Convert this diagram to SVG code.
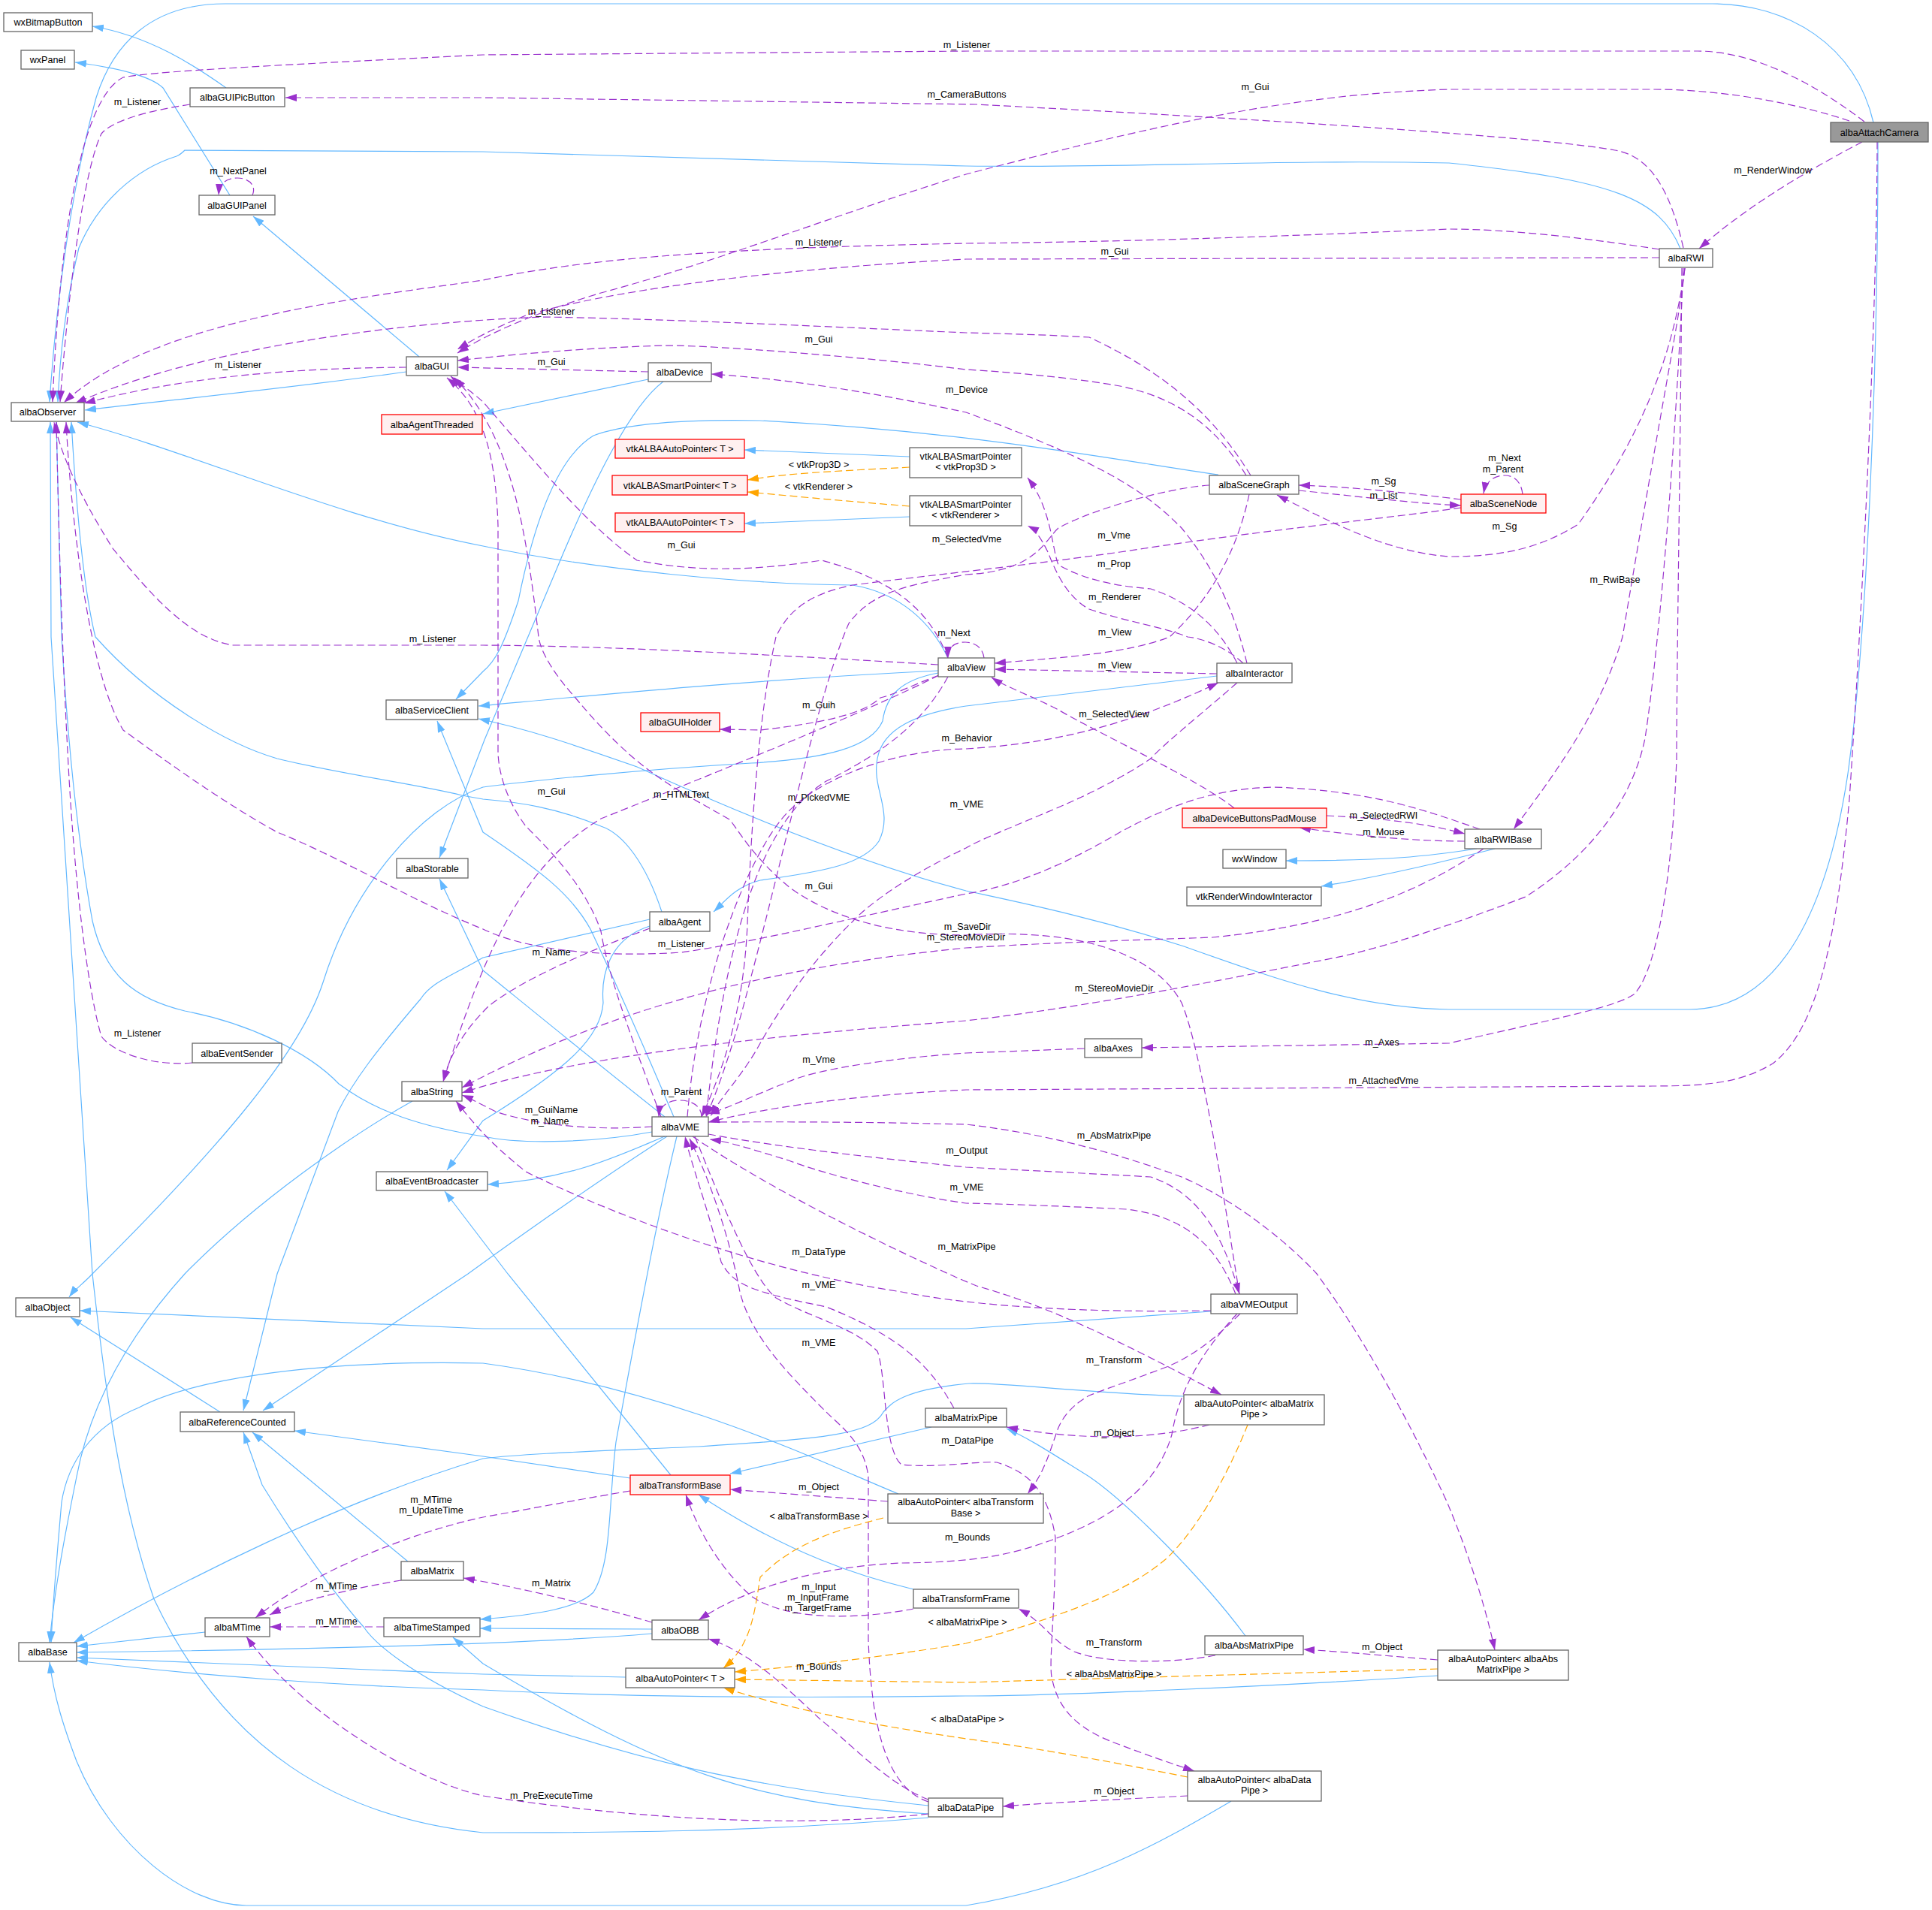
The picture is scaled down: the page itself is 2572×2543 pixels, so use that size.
<svg xmlns="http://www.w3.org/2000/svg" width="2572" height="2543" viewBox="0 0 2572 2543">
<style>
.nd rect{fill:#ffffff;stroke:#666666;stroke-width:1.3}
.nd.r rect{fill:#FFF0F0;stroke:#FF0000}
.nd.c rect{fill:#999999;stroke:#666666}
text{font-family:"Liberation Sans",Arial,sans-serif;font-size:12.6px;fill:#000000;text-anchor:middle}
.i{fill:none;stroke:#63B8FF;stroke-width:1.2;marker-end:url(#ai)}
.u{fill:none;stroke:#9A32CD;stroke-width:1.2;stroke-dasharray:10,5;marker-end:url(#au)}
.t{fill:none;stroke:#FFA500;stroke-width:1.2;stroke-dasharray:10,5;marker-end:url(#at)}
</style>
<defs>
<marker id="ai" viewBox="0 0 15 10" refX="15" refY="5" markerWidth="15" markerHeight="10" markerUnits="userSpaceOnUse" orient="auto"><path d="M0,0 L15,5 L0,10 z" fill="#63B8FF"/></marker>
<marker id="au" viewBox="0 0 15 10" refX="15" refY="5" markerWidth="15" markerHeight="10" markerUnits="userSpaceOnUse" orient="auto"><path d="M0,0 L15,5 L0,10 z" fill="#9A32CD"/></marker>
<marker id="at" viewBox="0 0 15 10" refX="15" refY="5" markerWidth="15" markerHeight="10" markerUnits="userSpaceOnUse" orient="auto"><path d="M0,0 L15,5 L0,10 z" fill="#FFA500"/></marker>
</defs>
<rect width="2572" height="2543" fill="#ffffff"/>
<g id="connectors">
<path class="i" d="M2494,163 C2470,60 2380,5 2280,5 L300,5 C200,5 150,60 128,130 C95,250 75,400 66,535"/>
<path class="i" d="M2500,189 C2500,500 2485,850 2460,1030 C2430,1230 2360,1344 2249,1344 L1929,1344 C1800,1342 1690,1300 1573,1259 C1450,1220 1350,1200 1286,1186 C1150,1150 1000,1090 848,1021 C760,990 700,970 637,957"/>
<path class="i" d="M2237,331 C2210,265 2150,240 1929,217 C1700,212 1500,224 1286,221 L643,202 L246,200 C242,204 240,206 235,208 C180,225 130,270 105,330 C88,400 80,470 77,535"/>
<path class="i" d="M301,117 C260,88 200,48 123,35"/>
<path class="i" d="M306,260 L217,117 C205,105 170,92 100,83"/>
<path class="i" d="M558,475 L337,288"/>
<path class="i" d="M541,495 C400,515 250,530 113,546"/>
<path class="i" d="M863,505 L643,551"/>
<path class="i" d="M883,508 C840,540 790,640 740,760 L645,985 L585,1142"/>
<path class="i" d="M1249,893 C1000,905 800,925 637,940"/>
<path class="i" d="M1262,876 C1240,830 1200,790 1135,779 C1000,778 800,760 643,727 C450,690 250,600 103,562"/>
<path class="i" d="M1249,896 C1200,905 1180,925 1175,960 C1160,995 1100,1010 1000,1016 C850,1025 700,1040 643,1048 C560,1075 470,1180 430,1308 C400,1400 300,1520 123,1696 C110,1710 100,1716 92,1727"/>
<path class="i" d="M1620,900 L1286,940 C1220,950 1175,970 1168,1010 C1160,1050 1190,1080 1170,1120 C1150,1150 1100,1160 1012,1172 C980,1180 965,1200 950,1214"/>
<path class="i" d="M881,1214 C860,1150 830,1110 800,1100 C740,1075 690,1068 643,1064 L615,1059 C560,1045 450,1030 369,1010 C300,990 200,930 127,848 C110,780 100,650 95,562"/>
<path class="i" d="M865,1224 L643,1275 C600,1300 574,1308 560,1330 C500,1400 470,1440 450,1480 C420,1560 390,1640 369,1696 L324,1878"/>
<path class="i" d="M865,1233 C810,1250 800,1300 803,1335 C800,1380 760,1420 643,1492 L595,1558"/>
<path class="i" d="M897,1487 C860,1400 830,1330 786,1237 C760,1190 720,1160 643,1108 L582,960"/>
<path class="i" d="M885,1487 C800,1420 690,1330 643,1292 L585,1170"/>
<path class="i" d="M868,1507 C800,1520 700,1525 643,1513 C560,1500 500,1480 451,1443 C410,1400 330,1362 246,1346 C180,1330 140,1300 123,1226 C100,1100 88,950 82,848 L75,562"/>
<path class="i" d="M885,1513 C820,1540 760,1570 649,1577"/>
<path class="i" d="M888,1513 C800,1570 700,1640 623,1696 L350,1878"/>
<path class="i" d="M901,1513 C880,1600 860,1700 820,1920 C810,2000 815,2080 790,2120 C770,2140 720,2150 639,2156"/>
<path class="i" d="M868,2169 L639,2168"/>
<path class="i" d="M868,2175 C750,2185 500,2195 102,2200"/>
<path class="i" d="M833,2233 L643,2229 C450,2222 250,2212 102,2207"/>
<path class="i" d="M1914,2231 C1700,2245 1400,2258 1286,2258 C1000,2262 800,2258 643,2250 C450,2245 250,2230 102,2211"/>
<path class="i" d="M1639,2398 C1550,2450 1450,2510 1286,2537 L328,2537 C250,2537 150,2460 102,2345 C85,2300 72,2260 66,2213"/>
<path class="i" d="M273,2173 L102,2192"/>
<path class="i" d="M549,1466 C470,1510 340,1600 246,1696 C170,1780 120,1870 102,1966 C85,2050 72,2120 66,2187"/>
<path class="i" d="M1196,1989 C1100,1950 900,1850 643,1815 C400,1810 250,1840 185,1874 C120,1900 90,1950 82,2000 C75,2080 70,2140 68,2187"/>
<path class="i" d="M1576,1859 C1450,1855 1330,1840 1290,1842 C1200,1850 1185,1870 1176,1880 C1160,1910 1100,1915 930,1926 C800,1932 700,1935 643,1942 C450,2000 250,2100 98,2187"/>
<path class="i" d="M1236,2420 C1000,2440 800,2440 643,2440 C450,2420 300,2330 205,2129 C160,2000 140,1850 123,1696 L68,848 L67,562"/>
<path class="i" d="M1236,2404 C1000,2380 848,2345 643,2272 C550,2230 500,2190 484,2166 C450,2128 400,2060 349,1977 L324,1907"/>
<path class="i" d="M1236,2415 C1000,2400 889,2361 643,2215 L603,2180"/>
<path class="i" d="M543,2079 L336,1907"/>
<path class="i" d="M839,1968 L643,1939 L392,1905"/>
<path class="i" d="M893,1964 L676,1696 L592,1586"/>
<path class="i" d="M1240,1900 L972,1962"/>
<path class="i" d="M1216,2116 C1150,2100 1050,2070 930,1990"/>
<path class="i" d="M1658,2178 C1600,2100 1500,2000 1450,1966 C1400,1935 1370,1915 1340,1902"/>
<path class="i" d="M1612,1746 L1286,1769 L643,1769 L106,1745"/>
<path class="i" d="M293,1880 L94,1754"/>
<path class="i" d="M1966,1130 C1900,1140 1850,1146 1712,1146"/>
<path class="i" d="M1990,1130 C1930,1145 1850,1165 1759,1180"/>
<path class="i" d="M1211,608 L991,599"/>
<path class="i" d="M1211,688 L991,697"/>
<path class="i" d="M1622,632 C1500,615 1300,575 1012,560 C900,558 830,565 790,580 C740,610 710,700 690,800 C670,860 660,880 643,894 L607,931"/>
<path class="u" d="M2482,162 C2440,130 2350,68 2260,68 L1290,68 L643,73 C400,85 200,95 164,103 C110,130 80,300 70,535"/>
<path class="u" d="M2241,330 C2225,260 2200,208 2150,200 C2050,182 1700,160 1300,139 L643,130 L380,130"/>
<path class="u" d="M2462,161 C2400,140 2300,119 2200,119 L1929,119 C1750,125 1600,150 1286,232 C1100,290 950,350 800,390 C700,420 640,450 609,470"/>
<path class="u" d="M2479,189 C2420,220 2330,270 2262,331"/>
<path class="u" d="M2499,189 C2499,400 2480,800 2462,1064 C2445,1250 2420,1370 2360,1416 C2320,1440 2280,1446 2200,1446 L1286,1451 C1100,1460 1000,1480 943,1494"/>
<path class="u" d="M2209,332 C2100,315 2000,305 1929,305 C1700,315 1500,322 1286,324 C1000,330 800,340 643,373 C450,400 200,430 85,536"/>
<path class="u" d="M2209,343 L1286,345 C1000,360 800,390 700,420 C650,440 625,455 609,465"/>
<path class="u" d="M2243,357 C2230,450 2200,560 2101,698 C2050,730 2000,741 1929,741 C1850,735 1780,700 1700,659"/>
<path class="u" d="M2243,357 C2235,430 2215,520 2160,848 C2130,950 2070,1030 2015,1104"/>
<path class="u" d="M2241,357 C2230,600 2210,850 2190,983 C2170,1080 2100,1150 2031,1194 C1950,1225 1850,1260 1778,1275 C1600,1310 1450,1340 1286,1359 C1000,1380 750,1410 615,1455"/>
<path class="u" d="M2239,357 C2237,600 2232,900 2232,1010 C2225,1200 2200,1300 2175,1324 C2150,1340 2100,1350 1929,1389 L1520,1395"/>
<path class="u" d="M1659,633 C1620,570 1570,530 1491,514 C1400,498 1286,492 1286,492 C1150,475 950,460 889,460 C800,462 700,470 609,480"/>
<path class="u" d="M1665,633 C1620,560 1560,500 1450,449 C1380,445 1320,444 1286,443 C1100,435 900,425 725,422 C500,430 250,470 100,537"/>
<path class="u" d="M863,495 L609,489"/>
<path class="u" d="M1660,883 C1645,820 1620,760 1573,703 C1530,660 1480,620 1286,549 C1150,520 1050,505 947,498"/>
<path class="u" d="M1729,653 C1800,660 1880,670 1945,673"/>
<path class="u" d="M1945,665 C1880,657 1800,648 1729,646"/>
<path class="u" d="M2027,658 C2025,640 2015,633 2003,633 C1990,633 1978,640 1975,657"/>
<path class="u" d="M1945,676 C1850,690 1700,703 1491,735 C1350,755 1200,770 1135,779 C1080,790 1050,811 1033,848 C1010,950 1000,1100 995,1230 C990,1350 960,1430 934,1487"/>
<path class="u" d="M1610,646 C1550,650 1450,680 1409,703 C1390,720 1380,760 1286,765 C1200,780 1160,790 1130,830 C1090,920 1040,1150 1000,1300 C980,1380 960,1440 940,1487"/>
<path class="u" d="M1663,658 C1650,720 1620,790 1557,848 C1500,870 1420,875 1324,883"/>
<path class="u" d="M1647,883 C1620,830 1580,800 1532,784 C1480,780 1440,770 1409,752 C1400,730 1401,680 1368,636"/>
<path class="u" d="M1655,883 C1630,860 1600,850 1581,848 C1550,835 1500,828 1450,811 C1420,795 1405,760 1395,735 C1385,715 1378,705 1368,700"/>
<path class="u" d="M1620,897 L1324,891"/>
<path class="u" d="M1643,1076 C1600,1040 1450,970 1409,945 C1370,925 1340,915 1320,902"/>
<path class="u" d="M915,1487 C930,1300 1000,1130 1050,1080 C1100,1030 1200,998 1286,997 C1400,990 1500,967 1622,909"/>
<path class="u" d="M1250,899 C1220,910 1190,925 1172,929 C1150,950 1100,962 1012,972 L958,971"/>
<path class="u" d="M1262,876 C1240,820 1200,775 1094,746 C1000,760 930,762 848,746 C780,700 700,600 643,535 C620,515 610,510 600,501"/>
<path class="u" d="M880,1487 C840,1380 810,1300 800,1240 C780,1180 730,1130 700,1100 C670,1060 663,1020 663,1000 L663,700 C660,600 640,540 595,503"/>
<path class="u" d="M1650,1723 C1630,1600 1600,1400 1573,1335 C1540,1275 1450,1235 1286,1245 C1200,1245 1115,1227 1053,1183 C1000,1140 980,1100 971,1091 C900,1050 850,1030 766,929 C740,900 720,870 717,848 C700,700 680,580 605,503"/>
<path class="u" d="M1249,885 C1000,870 800,860 643,859 L310,859 C250,850 200,790 150,730 C100,650 80,600 72,562"/>
<path class="u" d="M1262,901 C1230,960 1180,1000 1100,1040 C1000,1100 960,1300 940,1487"/>
<path class="u" d="M1250,899 C1150,950 900,1050 800,1090 C700,1150 650,1250 590,1440"/>
<path class="u" d="M1647,909 C1600,950 1550,990 1532,1010 C1480,1045 1420,1070 1409,1075 C1350,1100 1300,1120 1286,1129 C1200,1170 1150,1210 1135,1227 C1080,1280 1040,1340 1012,1389 C990,1430 960,1460 946,1486"/>
<path class="u" d="M865,1236 C800,1260 700,1300 650,1340 C620,1370 600,1400 590,1440"/>
<path class="u" d="M1970,1104 C1900,1080 1830,1053 1696,1048 C1620,1050 1560,1070 1491,1108 C1420,1150 1350,1180 1286,1190 C1100,1230 1000,1255 907,1268 C800,1275 700,1265 643,1237 C550,1200 450,1140 369,1108 C300,1070 230,1020 164,972 C120,900 95,700 88,562"/>
<path class="u" d="M256,1415 C200,1420 150,1400 135,1380 C120,1330 100,1200 90,1000 C82,850 78,700 75,562"/>
<path class="u" d="M253,139 C200,147 150,160 135,178 C110,230 90,400 80,535"/>
<path class="u" d="M541,489 C400,490 250,500 112,537"/>
<path class="u" d="M336,260 C342,246 330,237 316,237 C300,237 292,245 291,260"/>
<path class="u" d="M1310,876 C1308,860 1295,855 1285,855 C1270,855 1262,862 1262,876"/>
<path class="u" d="M934,1487 C934,1472 920,1465 905,1465 C890,1465 878,1472 877,1487"/>
<path class="u" d="M868,1500 C800,1505 720,1500 660,1480 C640,1470 625,1462 615,1458"/>
<path class="u" d="M1444,1396 L1286,1402 C1200,1408 1094,1421 1050,1440 C1000,1460 970,1475 943,1483"/>
<path class="u" d="M943,1494 C1100,1493 1200,1495 1286,1497 C1400,1510 1500,1540 1573,1567 C1650,1600 1720,1660 1753,1696 C1800,1760 1860,1858 1926,1999 C1960,2080 1980,2150 1990,2197"/>
<path class="u" d="M943,1510 C1050,1530 1200,1545 1286,1554 C1400,1560 1500,1565 1532,1567 C1600,1590 1630,1650 1650,1723"/>
<path class="u" d="M1645,1723 C1620,1660 1580,1620 1500,1610 C1400,1605 1300,1602 1286,1602 C1200,1590 1094,1562 1050,1545 C1000,1530 970,1520 945,1517"/>
<path class="u" d="M922,1513 C990,1560 1100,1620 1217,1675 C1250,1690 1270,1700 1300,1712 C1400,1740 1500,1790 1626,1857"/>
<path class="u" d="M1612,1745 C1450,1748 1300,1740 1200,1720 C1000,1690 800,1610 700,1560 C650,1520 630,1495 607,1466"/>
<path class="u" d="M1270,1875 C1240,1820 1200,1780 1100,1740 C1000,1720 975,1710 960,1680 C940,1600 920,1550 912,1513"/>
<path class="u" d="M1236,2399 C1180,2380 1160,2300 1156,2183 L1156,1966 C1150,1920 1120,1900 1100,1880 C1050,1830 1000,1780 985,1720 C970,1640 940,1560 918,1516"/>
<path class="u" d="M925,1513 C960,1600 1000,1700 1033,1728 C1080,1755 1135,1766 1168,1799 C1180,1830 1176,1930 1200,1950 C1250,1955 1300,1945 1327,1947 C1370,1960 1395,1985 1405,2047 C1405,2150 1395,2220 1401,2237 C1410,2280 1440,2305 1491,2323 C1530,2338 1560,2348 1590,2358"/>
<path class="u" d="M1651,1749 C1620,1780 1590,1805 1553,1820 C1500,1840 1470,1850 1450,1858 C1420,1875 1410,1895 1405,1912 C1395,1940 1390,1960 1368,1989"/>
<path class="u" d="M1647,1749 C1600,1800 1570,1850 1560,1910 C1540,1980 1480,2020 1409,2047 C1350,2070 1300,2080 1200,2081 C1100,2085 1000,2110 930,2157"/>
<path class="u" d="M1182,1999 L972,1983"/>
<path class="u" d="M1216,2142 C1150,2155 1050,2160 1000,2125 C960,2090 930,2040 913,1990"/>
<path class="u" d="M839,1985 C750,2000 700,2010 643,2020 C550,2040 420,2090 340,2154"/>
<path class="u" d="M534,2104 C470,2115 400,2130 359,2150"/>
<path class="u" d="M511,2166 L359,2166"/>
<path class="u" d="M868,2160 C800,2140 700,2115 617,2101"/>
<path class="u" d="M1236,2415 C1100,2430 900,2430 643,2391 C550,2370 400,2280 328,2179"/>
<path class="u" d="M1236,2396 C1180,2375 1120,2310 1094,2291 C1050,2250 1000,2200 943,2182"/>
<path class="u" d="M1610,1897 C1540,1915 1450,1920 1340,1900"/>
<path class="u" d="M1618,2204 C1560,2215 1470,2215 1430,2199 C1400,2185 1390,2160 1356,2142"/>
<path class="u" d="M1914,2210 C1850,2205 1800,2200 1735,2196"/>
<path class="u" d="M1581,2391 C1500,2395 1400,2400 1335,2405"/>
<path class="u" d="M1766,1086 C1850,1090 1900,1097 1950,1110"/>
<path class="u" d="M1950,1120 C1880,1120 1800,1112 1730,1102"/>
<path class="u" d="M1975,1130 C1900,1180 1800,1230 1614,1248 C1500,1252 1400,1255 1286,1262 C1000,1290 800,1350 615,1448"/>
<path class="t" d="M1211,622 C1100,628 1050,630 995,639"/>
<path class="t" d="M1211,674 C1100,665 1050,660 995,655"/>
<path class="t" d="M1176,2021 C1100,2040 1050,2060 1012,2100 C1004,2150 1000,2190 963,2221"/>
<path class="t" d="M1661,1897 C1640,1950 1600,2030 1553,2075 C1500,2120 1420,2150 1286,2188 C1150,2210 1050,2220 978,2226"/>
<path class="t" d="M1914,2222 L1286,2240 L978,2236"/>
<path class="t" d="M1581,2366 C1500,2350 1400,2330 1286,2315 C1150,2295 1050,2275 963,2247"/>
<g id="edge-labels">
<text x="1287" y="64">m_Listener</text>
<text x="1287" y="130">m_CameraButtons</text>
<text x="1671" y="120">m_Gui</text>
<text x="2360" y="231">m_RenderWindow</text>
<text x="1090" y="327">m_Listener</text>
<text x="1484" y="339">m_Gui</text>
<text x="734" y="419">m_Listener</text>
<text x="1090" y="456">m_Gui</text>
<text x="734" y="486">m_Gui</text>
<text x="183" y="140">m_Listener</text>
<text x="317" y="232">m_NextPanel</text>
<text x="317" y="490">m_Listener</text>
<text x="1287" y="523">m_Device</text>
<text x="1090" y="623">&lt; vtkProp3D &gt;</text>
<text x="1090" y="652">&lt; vtkRenderer &gt;</text>
<text x="907" y="730">m_Gui</text>
<text x="1287" y="722">m_SelectedVme</text>
<text x="2003" y="614">m_Next</text>
<text x="2001" y="629">m_Parent</text>
<text x="1842" y="645">m_Sg</text>
<text x="1842" y="664">m_List</text>
<text x="2003" y="705">m_Sg</text>
<text x="1483" y="717">m_Vme</text>
<text x="1483" y="755">m_Prop</text>
<text x="1484" y="799">m_Renderer</text>
<text x="2150" y="776">m_RwiBase</text>
<text x="1484" y="846">m_View</text>
<text x="1270" y="847">m_Next</text>
<text x="576" y="855">m_Listener</text>
<text x="1484" y="890">m_View</text>
<text x="1090" y="943">m_Guih</text>
<text x="1483" y="955">m_SelectedView</text>
<text x="1287" y="987">m_Behavior</text>
<text x="734" y="1058">m_Gui</text>
<text x="907" y="1062">m_HTMLText</text>
<text x="1090" y="1066">m_PickedVME</text>
<text x="1287" y="1075">m_VME</text>
<text x="1842" y="1090">m_SelectedRWI</text>
<text x="1842" y="1112">m_Mouse</text>
<text x="1090" y="1184">m_Gui</text>
<text x="1288" y="1238">m_SaveDir</text>
<text x="1286" y="1252">m_StereoMovieDir</text>
<text x="907" y="1261">m_Listener</text>
<text x="734" y="1272">m_Name</text>
<text x="1483" y="1320">m_StereoMovieDir</text>
<text x="183" y="1380">m_Listener</text>
<text x="1840" y="1392">m_Axes</text>
<text x="1090" y="1415">m_Vme</text>
<text x="1842" y="1443">m_AttachedVme</text>
<text x="907" y="1458">m_Parent</text>
<text x="734" y="1482">m_GuiName</text>
<text x="732" y="1497">m_Name</text>
<text x="1483" y="1516">m_AbsMatrixPipe</text>
<text x="1287" y="1536">m_Output</text>
<text x="1287" y="1585">m_VME</text>
<text x="1287" y="1664">m_MatrixPipe</text>
<text x="1090" y="1671">m_DataType</text>
<text x="1090" y="1715">m_VME</text>
<text x="1090" y="1792">m_VME</text>
<text x="1483" y="1815">m_Transform</text>
<text x="1483" y="1912">m_Object</text>
<text x="1288" y="1922">m_DataPipe</text>
<text x="1090" y="1984">m_Object</text>
<text x="574" y="2001">m_MTime</text>
<text x="574" y="2015">m_UpdateTime</text>
<text x="1090" y="2023">&lt; albaTransformBase &gt;</text>
<text x="1288" y="2051">m_Bounds</text>
<text x="734" y="2112">m_Matrix</text>
<text x="448" y="2116">m_MTime</text>
<text x="1090" y="2117">m_Input</text>
<text x="1089" y="2131">m_InputFrame</text>
<text x="1089" y="2145">m_TargetFrame</text>
<text x="448" y="2163">m_MTime</text>
<text x="1288" y="2164">&lt; albaMatrixPipe &gt;</text>
<text x="1483" y="2191">m_Transform</text>
<text x="1840" y="2197">m_Object</text>
<text x="1090" y="2223">m_Bounds</text>
<text x="1483" y="2233">&lt; albaAbsMatrixPipe &gt;</text>
<text x="1288" y="2293">&lt; albaDataPipe &gt;</text>
<text x="1483" y="2389">m_Object</text>
<text x="734" y="2395">m_PreExecuteTime</text>
</g>
</g>
<g id="n-wxBitmapButton" class="nd"><rect x="5" y="17" width="118" height="25"/><text x="64" y="34">wxBitmapButton</text></g>
<g id="n-wxPanel" class="nd"><rect x="28" y="67" width="71" height="25"/><text x="63.5" y="84">wxPanel</text></g>
<g id="n-albaGUIPicButton" class="nd"><rect x="253" y="117" width="126" height="25"/><text x="316" y="134">albaGUIPicButton</text></g>
<g id="n-albaGUIPanel" class="nd"><rect x="265" y="260" width="101" height="26"/><text x="315.5" y="277.5">albaGUIPanel</text></g>
<g id="n-albaGUI" class="nd"><rect x="541" y="475" width="68" height="25"/><text x="575" y="492">albaGUI</text></g>
<g id="n-albaObserver" class="nd"><rect x="15" y="536" width="97" height="25"/><text x="63.5" y="553">albaObserver</text></g>
<g id="n-albaAgentThreaded" class="nd r"><rect x="508" y="552" width="134" height="26"/><text x="575" y="569.5">albaAgentThreaded</text></g>
<g id="n-albaDevice" class="nd"><rect x="863" y="483" width="84" height="25"/><text x="905" y="500">albaDevice</text></g>
<g id="n-vtkALBAAutoPointer-a" class="nd r"><rect x="819" y="585" width="172" height="25"/><text x="905" y="602">vtkALBAAutoPointer&lt; T &gt;</text></g>
<g id="n-vtkALBASmartPointer" class="nd r"><rect x="815" y="633" width="180" height="26"/><text x="905" y="650.5">vtkALBASmartPointer&lt; T &gt;</text></g>
<g id="n-vtkALBAAutoPointer-b" class="nd r"><rect x="819" y="683" width="172" height="25"/><text x="905" y="700">vtkALBAAutoPointer&lt; T &gt;</text></g>
<g id="n-vtkSP-Prop3D" class="nd"><rect x="1211" y="596" width="149" height="40"/><text x="1285.5" y="611.5">vtkALBASmartPointer</text><text x="1285.5" y="626">&lt; vtkProp3D &gt;</text></g>
<g id="n-vtkSP-Renderer" class="nd"><rect x="1211" y="660" width="149" height="40"/><text x="1285.5" y="675.5">vtkALBASmartPointer</text><text x="1285.5" y="690">&lt; vtkRenderer &gt;</text></g>
<g id="n-albaSceneGraph" class="nd"><rect x="1610" y="633" width="119" height="25"/><text x="1669.5" y="650">albaSceneGraph</text></g>
<g id="n-albaAttachCamera" class="nd c"><rect x="2437" y="163" width="130" height="26"/><text x="2502" y="180.5">albaAttachCamera</text></g>
<g id="n-albaRWI" class="nd"><rect x="2209" y="331" width="71" height="25"/><text x="2244.5" y="348">albaRWI</text></g>
<g id="n-albaSceneNode" class="nd r"><rect x="1945" y="658" width="113" height="25"/><text x="2001.5" y="675">albaSceneNode</text></g>
<g id="n-albaServiceClient" class="nd"><rect x="514" y="932" width="122" height="26"/><text x="575" y="949.5">albaServiceClient</text></g>
<g id="n-albaStorable" class="nd"><rect x="528" y="1143" width="95" height="26"/><text x="575.5" y="1160.5">albaStorable</text></g>
<g id="n-albaEventSender" class="nd"><rect x="256" y="1389" width="119" height="26"/><text x="315.5" y="1406.5">albaEventSender</text></g>
<g id="n-albaString" class="nd"><rect x="535" y="1440" width="80" height="26"/><text x="575" y="1457.5">albaString</text></g>
<g id="n-albaEventBroadcaster" class="nd"><rect x="501" y="1560" width="148" height="25"/><text x="575" y="1577">albaEventBroadcaster</text></g>
<g id="n-albaView" class="nd"><rect x="1249" y="876" width="75" height="25"/><text x="1286.5" y="893">albaView</text></g>
<g id="n-albaGUIHolder" class="nd r"><rect x="853" y="949" width="105" height="25"/><text x="905.5" y="966">albaGUIHolder</text></g>
<g id="n-albaAgent" class="nd"><rect x="865" y="1214" width="80" height="26"/><text x="905" y="1231.5">albaAgent</text></g>
<g id="n-albaVME" class="nd"><rect x="868" y="1487" width="75" height="26"/><text x="905.5" y="1504.5">albaVME</text></g>
<g id="n-albaInteractor" class="nd"><rect x="1620" y="883" width="100" height="26"/><text x="1670" y="900.5">albaInteractor</text></g>
<g id="n-albaDeviceButtonsPadMouse" class="nd r"><rect x="1574" y="1076" width="192" height="26"/><text x="1670" y="1093.5">albaDeviceButtonsPadMouse</text></g>
<g id="n-wxWindow" class="nd"><rect x="1628" y="1131" width="84" height="25"/><text x="1670" y="1148">wxWindow</text></g>
<g id="n-vtkRenderWindowInteractor" class="nd"><rect x="1580" y="1181" width="179" height="25"/><text x="1669.5" y="1198">vtkRenderWindowInteractor</text></g>
<g id="n-albaAxes" class="nd"><rect x="1444" y="1383" width="76" height="25"/><text x="1482" y="1400">albaAxes</text></g>
<g id="n-albaRWIBase" class="nd"><rect x="1950" y="1104" width="102" height="26"/><text x="2001" y="1121.5">albaRWIBase</text></g>
<g id="n-albaObject" class="nd"><rect x="21" y="1728" width="85" height="25"/><text x="63.5" y="1745">albaObject</text></g>
<g id="n-albaReferenceCounted" class="nd"><rect x="240" y="1880" width="152" height="26"/><text x="316" y="1897.5">albaReferenceCounted</text></g>
<g id="n-albaMatrix" class="nd"><rect x="534" y="2079" width="83" height="25"/><text x="575.5" y="2096">albaMatrix</text></g>
<g id="n-albaMTime" class="nd"><rect x="273" y="2154" width="86" height="25"/><text x="316" y="2171">albaMTime</text></g>
<g id="n-albaTimeStamped" class="nd"><rect x="511" y="2154" width="128" height="25"/><text x="575" y="2171">albaTimeStamped</text></g>
<g id="n-albaBase" class="nd"><rect x="25" y="2187" width="77" height="25"/><text x="63.5" y="2204">albaBase</text></g>
<g id="n-albaTransformBase" class="nd r"><rect x="839" y="1964" width="133" height="26"/><text x="905.5" y="1981.5">albaTransformBase</text></g>
<g id="n-albaMatrixPipe" class="nd"><rect x="1232" y="1875" width="108" height="25"/><text x="1286" y="1892">albaMatrixPipe</text></g>
<g id="n-apTransformBase" class="nd"><rect x="1182" y="1989" width="207" height="39"/><text x="1285.5" y="2004">albaAutoPointer&lt; albaTransform</text><text x="1285.5" y="2019">Base &gt;</text></g>
<g id="n-albaTransformFrame" class="nd"><rect x="1216" y="2116" width="140" height="25"/><text x="1286" y="2133">albaTransformFrame</text></g>
<g id="n-albaOBB" class="nd"><rect x="868" y="2157" width="75" height="26"/><text x="905.5" y="2174.5">albaOBB</text></g>
<g id="n-apT" class="nd"><rect x="833" y="2221" width="145" height="26"/><text x="905.5" y="2238.5">albaAutoPointer&lt; T &gt;</text></g>
<g id="n-albaDataPipe" class="nd"><rect x="1236" y="2394" width="99" height="25"/><text x="1285.5" y="2411">albaDataPipe</text></g>
<g id="n-albaVMEOutput" class="nd"><rect x="1612" y="1723" width="115" height="26"/><text x="1669.5" y="1740.5">albaVMEOutput</text></g>
<g id="n-apMatrixPipe" class="nd"><rect x="1576" y="1857" width="187" height="40"/><text x="1669.5" y="1872.5">albaAutoPointer&lt; albaMatrix</text><text x="1669.5" y="1887">Pipe &gt;</text></g>
<g id="n-albaAbsMatrixPipe" class="nd"><rect x="1604" y="2178" width="131" height="25"/><text x="1669.5" y="2195">albaAbsMatrixPipe</text></g>
<g id="n-apAbsMatrixPipe" class="nd"><rect x="1914" y="2197" width="174" height="40"/><text x="2001" y="2212.5">albaAutoPointer&lt; albaAbs</text><text x="2001" y="2227">MatrixPipe &gt;</text></g>
<g id="n-apDataPipe" class="nd"><rect x="1581" y="2358" width="178" height="40"/><text x="1670" y="2373.5">albaAutoPointer&lt; albaData</text><text x="1670" y="2388">Pipe &gt;</text></g>
</svg>
